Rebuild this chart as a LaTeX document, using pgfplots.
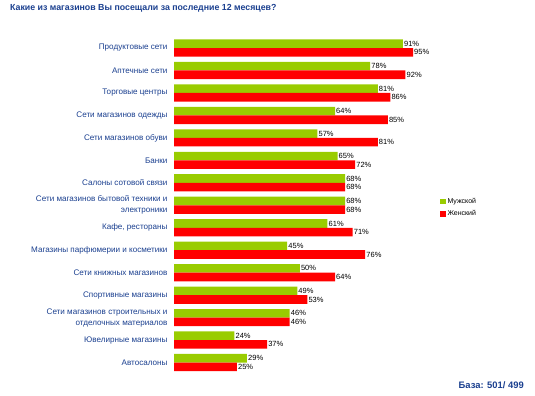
\documentclass[border=0pt]{standalone}
\usepackage{pgfplots}
\pgfplotsset{compat=1.18}
\usepackage{fontspec}
\setmainfont{Liberation Sans}
\definecolor{mgreen}{HTML}{99CC00}
\definecolor{fred}{HTML}{FF0000}
\definecolor{tblue}{HTML}{1A3F8F}
\begin{document}
\begin{tikzpicture}
\path[use as bounding box] (0bp,0bp) rectangle (535bp,396bp);
\node[anchor=west,font=\fontsize{8.8bp}{10bp}\selectfont\bfseries,text=tblue,inner sep=0pt] at (10bp,387.5bp) {Какие из магазинов Вы посещали за последние 12 месяцев?};
\node[anchor=east,font=\fontsize{9.4bp}{11bp}\selectfont\bfseries,text=tblue,inner sep=0pt] at (524bp,11bp) {База: 501/ 499};
\begin{axis}[
  at={(174bp,359.2bp)}, anchor=north west,
  scale only axis, width=251.6bp, height=337bp,
  xmin=0, xmax=100, ymin=-0.5, ymax=14.5,
  xbar, bar width=8.6bp,
  axis line style={draw=none},
  xtick=\empty,
  ytick={0,...,14},
  major tick length=0pt,
  yticklabels={Автосалоны,Ювелирные магазины,{Сети магазинов строительных и\\отделочных материалов},Спортивные магазины,Сети книжных магазинов,Магазины парфюмерии и косметики,{Кафе, рестораны},{Сети магазинов бытовой техники и\\электроники},Салоны сотовой связи,Банки,Сети магазинов обуви,Сети магазинов одежды,Торговые центры,Аптечные сети,Продуктовые сети},
  yticklabel style={align=right,font=\fontsize{8.1bp}{11bp}\selectfont,text=tblue,xshift=-3bp},
  clip=false,
  /pgf/number format/assume math mode=true,
  nodes near coords={\pgfmathprintnumber{\pgfplotspointmeta}\%},
  nodes near coords style={font=\fontsize{7.5bp}{9bp}\selectfont,text=black,anchor=west,inner sep=1bp},
  legend style={at={(1.057,0.528)},anchor=north west,draw=none,fill=none,font=\fontsize{7bp}{8bp}\selectfont,row sep=2bp,inner sep=0pt},
  legend cell align=left,
  legend image code/.code={\fill[#1] (0bp,-2.7bp) rectangle (5.4bp,2.7bp);},
]
\addplot[fill=mgreen,draw=none,bar shift=4.3bp] table[x=v,y=y] {
y v
14 91
13 78
12 81
11 64
10 57
9 65
8 68
7 68
6 61
5 45
4 50
3 49
2 46
1 24
0 29
};
\addlegendentry{Мужской}
\addplot[fill=fred,draw=none,bar shift=-4.3bp] table[x=v,y=y] {
y v
14 95
13 92
12 86
11 85
10 81
9 72
8 68
7 68
6 71
5 76
4 64
3 53
2 46
1 37
0 25
};
\addlegendentry{Женский}
\end{axis}
\end{tikzpicture}
\end{document}
